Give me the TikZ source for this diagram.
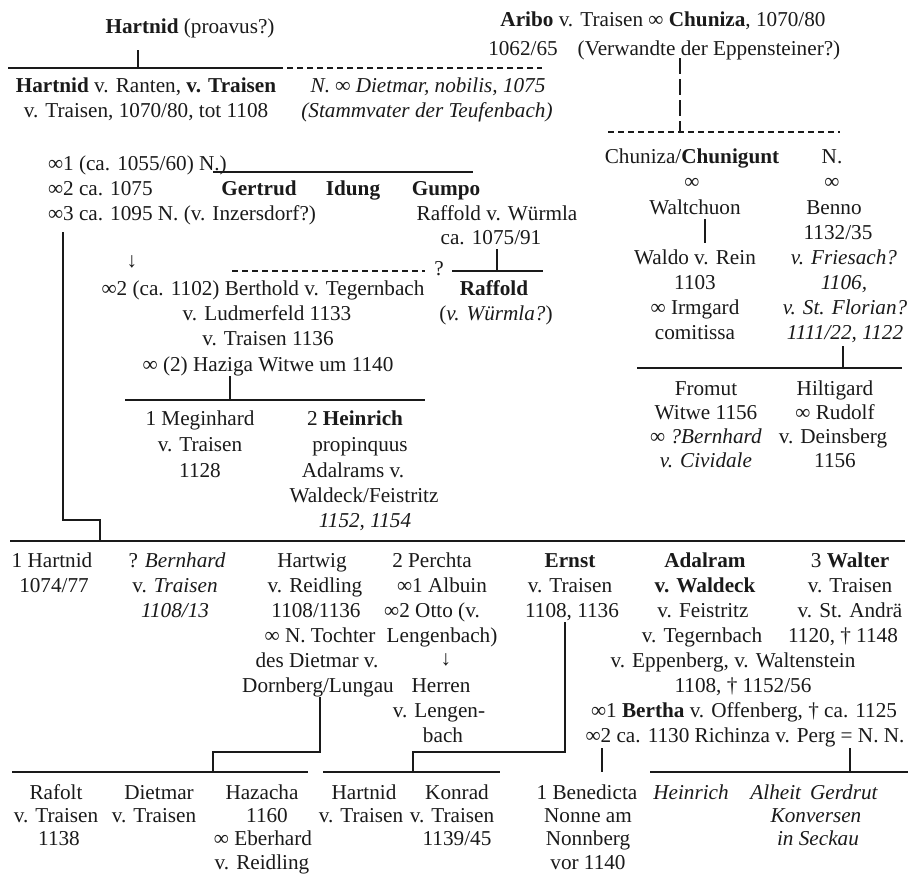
\documentclass[tikz,border=0pt]{standalone}
\usepackage{fontspec}
\setmainfont{Liberation Serif}
\definecolor{ink}{HTML}{1A1A1A}
\begin{document}
\begin{tikzpicture}[x=1pt,y=-1pt,
  txt/.style={anchor=base, inner sep=0pt, outer sep=0pt, text=ink, font=\fontsize{21.2}{25}\selectfont},
  ln/.style={draw=ink, line width=1.1pt},
  dln/.style={ln, dash pattern=on 6pt off 4pt},
  lln/.style={ln, dash pattern=on 16pt off 5pt}]
\newcommand\T[4]{\node[txt] (#1) at (#2,#3+7) {#4};}
\newcommand\TL[4]{\node[txt,anchor=base west] (#1) at (#2,#3+7) {#4};}
\useasboundingbox[fill=white] (0,0) rectangle (911,878);

% ---------- top ----------
\T{h0}{190}{27}{\textbf{Hartnid} (proavus?)}
\T{aribo}{663}{20}{\textbf{Aribo} v. Traisen ∞ \textbf{Chuniza}, 1070/80}
\T{aribod}{523}{48}{1062/65}
\T{verw}{709}{48}{(Verwandte der Eppensteiner?)}

\coordinate (a1) at (138,50); \coordinate (a2) at (138,68);
\draw[ln] (a1) -- (a2);
\coordinate (l1) at (8,68); \coordinate (l2) at (277,68); \coordinate (l3) at (542,68);
\draw[ln] (l1) -- (l2);
\draw[dln] (l2) -- (l3);

\T{hr1}{146}{85}{\textbf{Hartnid} v. Ranten, \textbf{v. Traisen}}
\T{hr2}{146}{110}{v. Traisen, 1070/80, tot 1108}
\T{nd1}{428}{85}{\textit{N. ∞ Dietmar, nobilis, 1075}}
\T{nd2}{427}{110}{\textit{(Stammvater der Teufenbach)}}

\coordinate (c1) at (680,58); \coordinate (c2) at (680,132);
\draw[lln] (c1) -- (c2);
\coordinate (c3) at (608,132); \coordinate (c4) at (840,132);
\draw[dln] (c3) -- (c4);

% ---------- marriages of Hartnid ----------
\TL{m1}{48}{163}{∞1 (ca. 1055/60) N.)}
\TL{m2}{48}{188}{∞2 ca. 1075}
\TL{m3}{48}{213}{∞3 ca. 1095 N. (v. Inzersdorf?)}
\coordinate (g1) at (213,172); \coordinate (g2) at (473,172);
\draw[ln] (g1) -- (g2);
\T{gertrud}{259}{188}{\textbf{Gertrud}}
\T{idung}{353}{188}{\textbf{Idung}}
\T{gumpo}{446}{188}{\textbf{Gumpo}}
\T{raffw}{497}{213}{Raffold v. Würmla}
\T{raffd}{491}{237}{ca. 1075/91}
\coordinate (r1) at (497,249); \coordinate (r2) at (497,271);
\draw[ln] (r1) -- (r2);
\coordinate (d1) at (232,271); \coordinate (d2) at (425,271);
\draw[dln] (d1) -- (d2);
\T{qm}{439}{268}{?}
\coordinate (s1) at (452,271); \coordinate (s2) at (543,271);
\draw[ln] (s1) -- (s2);
\T{arr}{132}{260}{↓}

\T{bert1}{263}{288}{∞2 (ca. 1102) Berthold v. Tegernbach}
\T{bert2}{267}{313}{v. Ludmerfeld 1133}
\T{bert3}{268}{338}{v. Traisen 1136}
\T{bert4}{268}{364}{∞ (2) Haziga Witwe um 1140}
\T{raff2}{494}{288}{\textbf{Raffold}}
\T{raff3}{496}{313}{(\textit{v. Würmla?})}

\coordinate (k1) at (230,376); \coordinate (k2) at (230,400);
\draw[ln] (k1) -- (k2);
\coordinate (k3) at (125,400); \coordinate (k4) at (425,400);
\draw[ln] (k3) -- (k4);
\T{meg1}{200}{418}{1 Meginhard}
\T{meg2}{200}{444}{v. Traisen}
\T{meg3}{200}{470}{1128}
\T{hei1}{355}{418}{2 \textbf{Heinrich}}
\T{hei2}{360}{444}{propinquus}
\T{hei3}{353}{470}{Adalrams v.}
\T{hei4}{364}{495}{Waldeck/Feistritz}
\T{hei5}{365}{520}{\textit{1152, 1154}}

% left descent line
\coordinate (v1) at (63,232); \coordinate (v2) at (63,520);
\coordinate (v3) at (100,520); \coordinate (v4) at (100,541);
\draw[ln] (v1) -- (v2) -- (v3) -- (v4);

% ---------- right column ----------
\T{chg}{692}{156}{Chuniza/\textbf{Chunigunt}}
\T{nn}{832}{156}{N.}
\T{inf1}{692}{181}{∞}
\T{inf2}{832}{181}{∞}
\T{walt}{695}{207}{Waltchuon}
\T{benno}{834}{207}{Benno}
\coordinate (w1) at (705,219); \coordinate (w2) at (705,243);
\draw[ln] (w1) -- (w2);
\T{bd}{838}{232}{1132/35}
\T{waldo}{695}{257}{Waldo v. Rein}
\T{fri}{844}{257}{\textit{v. Friesach?}}
\T{wd}{695}{282}{1103}
\T{fri2}{844}{282}{\textit{1106,}}
\T{irm}{695}{307}{∞ Irmgard}
\T{flo}{845}{307}{\textit{v. St. Florian?}}
\T{com}{695}{332}{comitissa}
\T{flo2}{845}{332}{\textit{1111/22, 1122}}
\coordinate (f1) at (843,346); \coordinate (f2) at (843,368);
\draw[ln] (f1) -- (f2);
\coordinate (f3) at (637,368); \coordinate (f4) at (902,368);
\draw[ln] (f3) -- (f4);
\T{fro1}{706}{388}{Fromut}
\T{fro2}{706}{412}{Witwe 1156}
\T{fro3}{706}{436}{∞ \textit{?Bernhard}}
\T{fro4}{706}{460}{\textit{v. Cividale}}
\T{hil1}{835}{388}{Hiltigard}
\T{hil2}{835}{412}{∞ Rudolf}
\T{hil3}{833}{436}{v. Deinsberg}
\T{hil4}{835}{460}{1156}

% ---------- children of Hartnid ----------
\coordinate (b1) at (10,541); \coordinate (b2) at (905,541);
\draw[ln] (b1) -- (b2);

\T{x1a}{52}{560}{1 Hartnid}
\T{x1b}{54}{585}{1074/77}
\T{x2a}{177}{560}{? \textit{Bernhard}}
\T{x2b}{175}{585}{v. \textit{Traisen}}
\T{x2c}{175}{610}{\textit{1108/13}}
\T{x3a}{312}{560}{Hartwig}
\T{x3b}{315}{585}{v. Reidling}
\T{x3c}{316}{610}{1108/1136}
\T{x3d}{320}{635}{∞ N. Tochter}
\T{x3e}{317}{660}{des Dietmar v.}
\T{x3f}{318}{685}{Dornberg/Lungau}
\T{x4a}{432}{560}{2 Perchta}
\T{x4b}{442}{585}{∞1 Albuin}
\T{x4c}{432}{610}{∞2 Otto (v.}
\T{x4d}{442}{635}{Lengenbach)}
\T{x4e}{446}{658}{↓}
\T{x4f}{441}{685}{Herren}
\T{x4g}{439}{710}{v. Lengen-}
\T{x4h}{443}{735}{bach}
\T{x5a}{570}{560}{\textbf{Ernst}}
\T{x5b}{570}{585}{v. Traisen}
\T{x5c}{572}{610}{1108, 1136}
\T{x6a}{705}{560}{\textbf{Adalram}}
\T{x6b}{705}{585}{\textbf{v. Waldeck}}
\T{x6c}{703}{610}{v. Feistritz}
\T{x6d}{702}{635}{v. Tegernbach}
\T{x7a}{850}{560}{3 \textbf{Walter}}
\T{x7b}{850}{585}{v. Traisen}
\T{x7c}{850}{610}{v. St. Andrä}
\T{x7d}{843}{635}{1120, † 1148}
\T{x6e}{733}{660}{v. Eppenberg, v. Waltenstein}
\T{x6f}{743}{685}{1108, † 1152/56}
\T{x6g}{744}{710}{∞1 \textbf{Bertha} v. Offenberg, † ca. 1125}
\T{x6h}{745}{735}{∞2 ca. 1130 Richinza v. Perg = N. N.}

% ---------- grandchildren connectors ----------
\coordinate (hw1) at (320,697); \coordinate (hw2) at (320,752);
\coordinate (hw3) at (213,752); \coordinate (hw4) at (213,772);
\draw[ln] (hw1) -- (hw2) -- (hw3) -- (hw4);
\coordinate (hl1) at (12,772); \coordinate (hl2) at (308,772);
\draw[ln] (hl1) -- (hl2);
\coordinate (e1) at (565,622); \coordinate (e2) at (565,752);
\coordinate (e3) at (413,752); \coordinate (e4) at (413,772);
\draw[ln] (e1) -- (e2) -- (e3) -- (e4);
\coordinate (el1) at (323,772); \coordinate (el2) at (500,772);
\draw[ln] (el1) -- (el2);
\coordinate (bn1) at (602,748); \coordinate (bn2) at (602,772);
\draw[ln] (bn1) -- (bn2);
\coordinate (rl1) at (650,772); \coordinate (rl2) at (908,772);
\draw[ln] (rl1) -- (rl2);
\coordinate (rv1) at (850,748); \coordinate (rv2) at (850,772);
\draw[ln] (rv1) -- (rv2);

% ---------- grandchildren ----------
\T{y1a}{56}{792}{Rafolt}
\T{y1b}{56}{815}{v. Traisen}
\T{y1c}{59}{838}{1138}
\T{y2a}{159}{792}{Dietmar}
\T{y2b}{154}{815}{v. Traisen}
\T{y3a}{262}{792}{Hazacha}
\T{y3b}{267}{815}{1160}
\T{y3c}{263}{838}{∞ Eberhard}
\T{y3d}{262}{862}{v. Reidling}
\T{y4a}{364}{792}{Hartnid}
\T{y4b}{361}{815}{v. Traisen}
\T{y5a}{457}{792}{Konrad}
\T{y5b}{452}{815}{v. Traisen}
\T{y5c}{457}{838}{1139/45}
\T{y6a}{587}{792}{1 Benedicta}
\T{y6b}{588}{815}{Nonne am}
\T{y6c}{588}{838}{Nonnberg}
\T{y6d}{588}{862}{vor 1140}
\T{y7}{691}{792}{\textit{Heinrich}}
\T{y8}{776}{792}{\textit{Alheit}}
\T{y9}{844}{792}{\textit{Gerdrut}}
\T{y10}{816}{815}{\textit{Konversen}}
\T{y11}{818}{838}{\textit{in Seckau}}
\end{tikzpicture}
\end{document}
